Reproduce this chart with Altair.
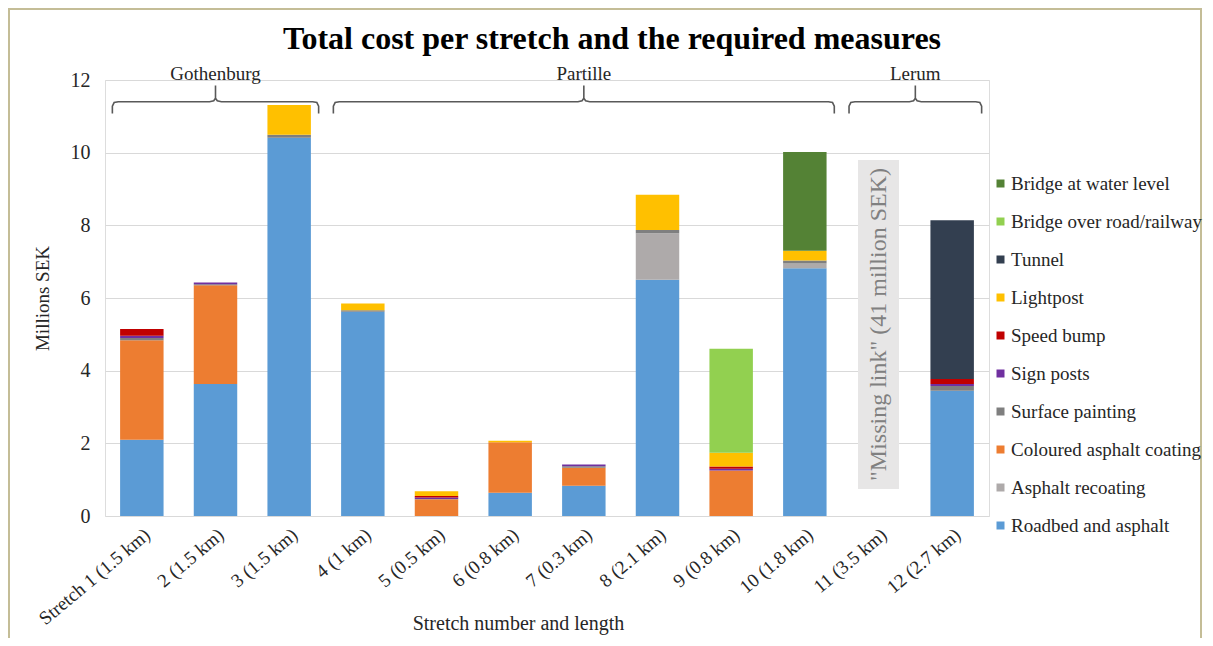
import altair as alt
import pandas as pd

# ---------------- data ----------------
stretches = ["Stretch 1 (1.5 km)", "2 (1.5 km)", "3 (1.5 km)", "4  (1 km)", "5 (0.5 km)",
             "6 (0.8 km)", "7 (0.3 km)", "8 (2.1 km)", "9 (0.8 km)", "10 (1.8 km)",
             "11 (3.5 km)", "12 (2.7 km)"]

# stack order, bottom -> top
measures = ["Roadbed and asphalt", "Asphalt recoating", "Coloured asphalt coating",
            "Surface painting", "Sign posts", "Speed bump", "Lightpost", "Tunnel",
            "Bridge over road/railway", "Bridge at water level"]
colors = ["#5B9BD5", "#AEAAAA", "#ED7D31", "#7F7F7F", "#7030A0", "#C00000",
          "#FFC000", "#333F50", "#92D050", "#548235"]

roadbed      = [2.10, 3.63, 10.41, 5.62, 0.00, 0.64, 0.83, 6.50, 0.00, 6.82, 0, 3.45]
recoating    = [0.00, 0.00, 0.00, 0.00, 0.00, 0.00, 0.00, 1.28, 0.00, 0.13, 0, 0.00]
coloured     = [2.74, 2.72, 0.00, 0.00, 0.46, 1.39, 0.50, 0.00, 1.25, 0.00, 0, 0.00]
surface      = [0.06, 0.03, 0.08, 0.04, 0.01, 0.00, 0.04, 0.09, 0.00, 0.08, 0, 0.13]
signposts    = [0.06, 0.05, 0.00, 0.00, 0.04, 0.00, 0.05, 0.00, 0.05, 0.00, 0, 0.05]
speedbump    = [0.19, 0.00, 0.00, 0.00, 0.04, 0.00, 0.00, 0.00, 0.06, 0.00, 0, 0.14]
lightpost    = [0.00, 0.00, 0.82, 0.19, 0.13, 0.04, 0.00, 0.97, 0.38, 0.27, 0, 0.00]
tunnel       = [0.00, 0.00, 0.00, 0.00, 0.00, 0.00, 0.00, 0.00, 0.00, 0.00, 0, 4.37]
bridge_road  = [0.00, 0.00, 0.00, 0.00, 0.00, 0.00, 0.00, 0.00, 2.86, 0.00, 0, 0.00]
bridge_water = [0.00, 0.00, 0.00, 0.00, 0.00, 0.00, 0.00, 0.00, 0.00, 2.72, 0, 0.00]
series = [roadbed, recoating, coloured, surface, signposts, speedbump, lightpost,
          tunnel, bridge_road, bridge_water]

# municipalities (first and last stretch number)
groups = ["Gothenburg", "Partille", "Lerum"]
group_first = [1, 4, 11]
group_last = [3, 10, 12]

# annotation for stretch 11
missing_stretch = "11 (3.5 km)"
missing_text = '"Missing link" (41 million SEK)'
missing_low, missing_high = 0.74, 9.8

title = "Total cost per stretch and the required measures"
FONT = "Liberation Serif"
TXT = "#262626"

# ---------------- tables ----------------
rows = []
for k, (m, vals) in enumerate(zip(measures, series)):
    for s, v in zip(stretches, vals):
        if v > 0:
            rows.append({"stretch": s, "measure": m, "value": v, "k": k})
df = pd.DataFrame(rows)

legend_order = measures[::-1]
legend_colors = colors[::-1]

# brace paths on a 0..12 continuous scale (band i covers [i-1, i])
inset, d = 0.1, 0.08
y_end, y_line, y_mid, y_tip = 11.08, 11.40, 11.50, 11.85
brows, lrows = [], []
for g, f, l in zip(groups, group_first, group_last):
    s = f - 1 + inset
    e = l - inset
    m = (s + e) / 2
    pts = [(s, y_end), (s, y_line - 0.12), (s + d * 0.3, y_line - 0.02), (s + d, y_line),
           (m - d, y_line), (m - d * 0.3, y_line + 0.03), (m, y_mid), (m, y_tip),
           (m, y_mid), (m + d * 0.3, y_line + 0.03), (m + d, y_line),
           (e - d, y_line), (e - d * 0.3, y_line - 0.02), (e, y_line - 0.12), (e, y_end)]
    for i, (px, py) in enumerate(pts):
        brows.append({"group": g, "i": i, "pos": px, "by": py})
    lrows.append({"group": g, "pos": m, "ly": 12.17})
bdf = pd.DataFrame(brows)
ldf = pd.DataFrame(lrows)

W, H = 884, 436
band_scale = alt.Scale(domain=stretches, paddingInner=0.41, paddingOuter=0.205)
yscale = alt.Scale(domain=[0, 12], nice=False)
qscale = alt.Scale(domain=[0, 12], nice=False, zero=False)

yaxis = alt.Axis(title="Millions SEK", values=[0, 2, 4, 6, 8, 10, 12],
                 labelFontSize=20, labelPadding=15, labelColor=TXT,
                 ticks=False, domain=False, gridColor="#D9D9D9",
                 labelFont=FONT, titleFont=FONT, titleFontSize=19,
                 titleFontWeight="normal", titleColor=TXT,
                 titleX=-63, titleY=H / 2, titleBaseline="middle",
                 titleAngle=270)

bars = alt.Chart(df).mark_bar().encode(
    x=alt.X("stretch:N", sort=stretches, scale=band_scale,
            axis=alt.Axis(title="Stretch number and length", labelAngle=-40,
                          labelFontSize=19, labelPadding=9, labelColor=TXT,
                          ticks=False, domain=False, labelFont=FONT,
                          titleFont=FONT, titleFontSize=20, titleFontWeight="normal",
                          titleColor=TXT, titleX=413, titleY=107,
                          titleBaseline="middle")),
    y=alt.Y("value:Q", stack="zero", scale=yscale, axis=yaxis),
    color=alt.Color("measure:N",
                    scale=alt.Scale(domain=legend_order, range=legend_colors),
                    legend=alt.Legend(title=None, orient="none", legendX=886, legendY=94,
                                      symbolType="square", symbolSize=64,
                                      symbolStrokeWidth=0, labelFont=FONT,
                                      labelFontSize=19, labelColor=TXT,
                                      rowPadding=18, labelOffset=1,
                                      labelLimit=300)),
    order=alt.Order("k:Q", sort="ascending"),
)

ann = pd.DataFrame([{"stretch": missing_stretch, "lo": missing_low, "hi": missing_high,
                     "mid": (missing_low + missing_high) / 2, "txt": missing_text}])
box = alt.Chart(ann).mark_bar(size=41, color="#E7E6E6").encode(
    x=alt.X("stretch:N", scale=band_scale, axis=None),
    y=alt.Y("lo:Q", scale=yscale, axis=yaxis),
    y2="hi:Q",
)
box_text = alt.Chart(ann).mark_text(angle=270, font=FONT, fontSize=24, color="#808080",
                                    baseline="middle", align="center").encode(
    x=alt.X("stretch:N", scale=band_scale, axis=None),
    y=alt.Y("mid:Q", scale=yscale, axis=yaxis),
    text="txt:N",
)

braces = alt.Chart(bdf).mark_line(color="#595959", strokeWidth=1.6).encode(
    x=alt.X("pos:Q", scale=qscale, axis=None),
    y=alt.Y("by:Q", scale=yscale, axis=yaxis),
    detail="group:N",
    order="i:Q",
)
brace_labels = alt.Chart(ldf).mark_text(font=FONT, fontSize=19, color=TXT,
                                        baseline="middle").encode(
    x=alt.X("pos:Q", scale=qscale, axis=None),
    y=alt.Y("ly:Q", scale=yscale, axis=yaxis),
    text="group:N",
)

border = alt.Chart(pd.DataFrame({"a": [0]})).mark_rect(
    fill="transparent", stroke="#C4BD97", strokeWidth=2).encode(
    x=alt.value(-96), x2=alt.value(W + 212), y=alt.value(-71), y2=alt.value(H + 200))

chart = alt.layer(bars, box, box_text, braces, brace_labels, border).resolve_scale(
    x="independent", color="independent"
).properties(
    width=W, height=H,
    title=alt.TitleParams(title, font=FONT, fontSize=32, fontWeight="bold",
                          color="#000000", anchor="middle", dx=65, offset=-48),
    autosize=alt.AutoSizeParams(type="none"),
    padding={"left": 97, "top": 72, "right": 214, "bottom": 122},
).configure_view(stroke=None).configure(background="white")

chart.save("out.html", embed_options={"renderer": "svg", "actions": False})
